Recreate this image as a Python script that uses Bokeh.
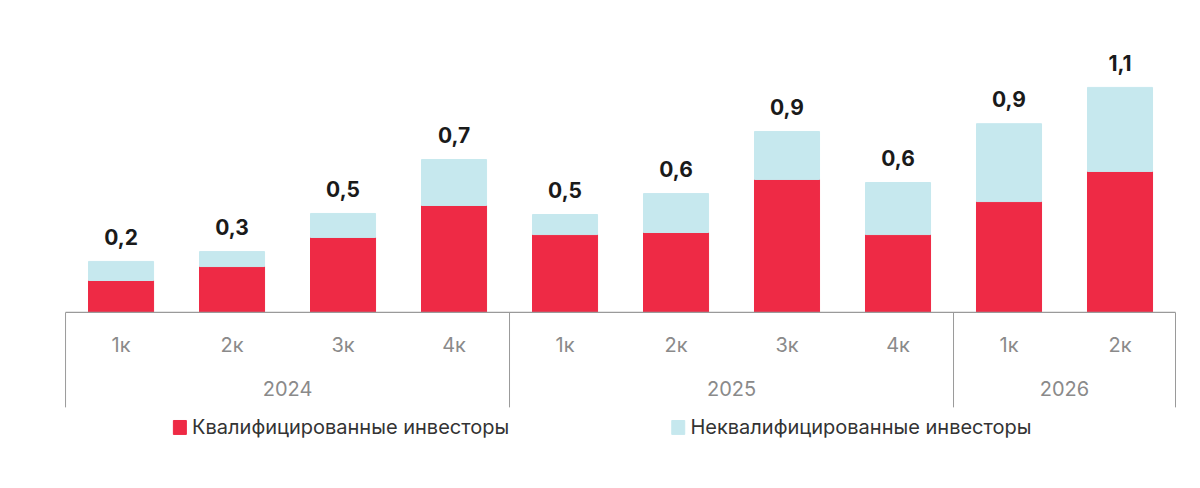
from bokeh.plotting import figure
from bokeh.models import Range1d, ColumnDataSource
from bokeh.core.properties import value
from bokeh.embed import file_html
from bokeh.resources import INLINE

quarters = ["1к", "2к", "3к", "4к", "1к", "2к", "3к", "4к", "1к", "2к"]
years = ["2024", "2025", "2026"]
year_spans = [(0, 4), (4, 8), (8, 10)]
qualified = [0.156, 0.224, 0.366, 0.522, 0.380, 0.390, 0.649, 0.380, 0.541, 0.688]
nonqualified = [0.093, 0.073, 0.117, 0.224, 0.098, 0.190, 0.234, 0.254, 0.380, 0.410]
totals_lbl = ["0,2", "0,3", "0,5", "0,7", "0,5", "0,6", "0,9", "0,6", "0,9", "1,1"]
legend_names = ["Квалифицированные инвесторы", "Неквалифицированные инвесторы"]

RED = "#EE2A45"
CYAN = "#C6E8EE"
GREY = "#8a8a8a"
FONT = value("Inter")

p = figure(width=1184, height=470, output_backend="svg", toolbar_location=None,
           x_range=Range1d(-0.586, 10.081), y_range=Range1d(-0.771, 1.522),
           min_border=0)
p.axis.visible = False
p.grid.visible = False
p.outline_line_color = None

xs = [i + 0.5 for i in range(len(quarters))]
tot = [a + b for a, b in zip(qualified, nonqualified)]
src = ColumnDataSource(dict(x=xs, q=qualified, t=tot, lbl=totals_lbl, ql=quarters,
                            ly=[t + 0.08 for t in tot]))
p.vbar(x="x", bottom=0, top="q", width=0.586, color=RED, source=src)
p.vbar(x="x", bottom="q", top="t", width=0.586, color=CYAN, source=src)
p.text(x="x", y="ly", text="lbl", source=src, text_align="center", text_baseline="bottom",
       text_font=FONT, text_font_style="bold", text_font_size="21px", text_color="#1a1a1a")

# category axis
p.segment(x0=0, y0=0, x1=10, y1=0, line_color="#9a9a9a", line_width=1.2)
for a, b in year_spans:
    p.segment(x0=[a], y0=[0], x1=[a], y1=[-0.463], line_color="#9a9a9a", line_width=1)
p.segment(x0=10, y0=0, x1=10, y1=-0.463, line_color="#9a9a9a", line_width=1)
p.text(x="x", y=-0.161, text="ql", source=src, text_align="center", text_baseline="middle",
       text_font=FONT, text_font_size="20px", text_color=GREY)
p.text(x=[(a + b) / 2 for a, b in year_spans], y=[-0.371] * 3, text=years,
       text_align="center", text_baseline="middle",
       text_font=FONT, text_font_size="20px", text_color=GREY)

# legend
p.rect(x=[1.03, 5.52], y=[-0.561, -0.561], width=0.117, height=0.068, color=[RED, CYAN])
p.text(x=[1.14, 5.63], y=[-0.561, -0.561], text=legend_names, text_baseline="middle",
       text_font=FONT, text_font_size="20px", text_color="#333333")

open("out.html", "w").write(file_html(p, INLINE))
